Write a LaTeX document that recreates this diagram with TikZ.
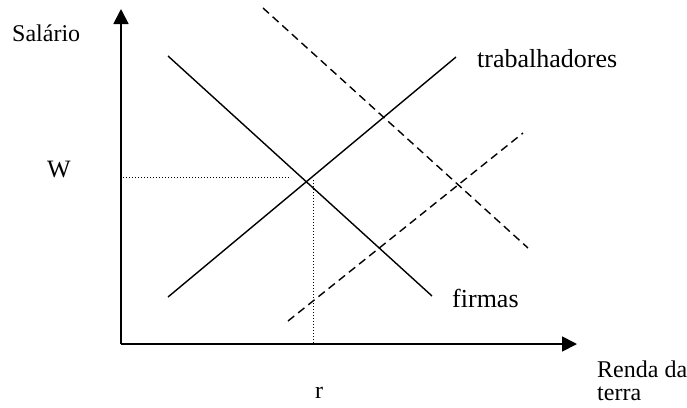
\documentclass[tikz,border=0pt]{standalone}
\usepackage{fontspec}
\setmainfont{Liberation Serif}
\usetikzlibrary{arrows.meta}
\begin{document}
\begin{tikzpicture}[x=1pt,y=-1pt,
  lbl/.style={inner sep=0pt,anchor=base west,font=\fontsize{24}{26}\selectfont},
  biglbl/.style={lbl,font=\fontsize{26}{28}\selectfont},
  axisline/.style={line width=1.8pt,-{Triangle[length=15pt,width=15pt]}},
  curve/.style={line width=1.4pt},
  shifted/.style={line width=1.4pt,dash pattern=on 8pt off 5pt},
  guide/.style={line width=1pt,dash pattern=on 1pt off 2pt}]
\useasboundingbox (0,0) rectangle (687,407);
% axes
\coordinate (O) at (121,344);
\coordinate (ytip) at (121,9);
\coordinate (xtip) at (577,344);
\draw[axisline] (O) -- (ytip);
\draw[axisline] (O) -- (xtip);
% solid curves
\coordinate (f1) at (168,56);
\coordinate (f2) at (432,296);
\coordinate (t1) at (168,297);
\coordinate (t2) at (456,57);
\draw[curve] (f1) -- (f2);
\draw[curve] (t1) -- (t2);
% dashed curves
\coordinate (d1) at (263,8);
\coordinate (d2) at (528,248);
\coordinate (s1) at (288,321);
\coordinate (s2) at (523,133);
\draw[shifted] (d1) -- (d2);
\draw[shifted] (s1) -- (s2);
% dotted guides
\coordinate (wy) at (123,177);
\coordinate (we) at (291,177);
\coordinate (rt) at (313,180);
\coordinate (rb) at (313,343);
\draw[guide] (wy) -- (we);
\draw[guide] (rt) -- (rb);
% labels
\node[lbl] (sal) at (12,41) {Salário};
\node[lbl,font=\fontsize{25}{27}\selectfont] (w) at (47,177) {W};
\node[biglbl] (trab) at (477,67) {trabalhadores};
\node[biglbl] (firm) at (452,307) {firmas};
\node[lbl] (r) at (315,398) {r};
\node[lbl] (renda) at (597,377) {Renda da};
\node[lbl] (terra) at (597,400) {terra};
\end{tikzpicture}
\end{document}
